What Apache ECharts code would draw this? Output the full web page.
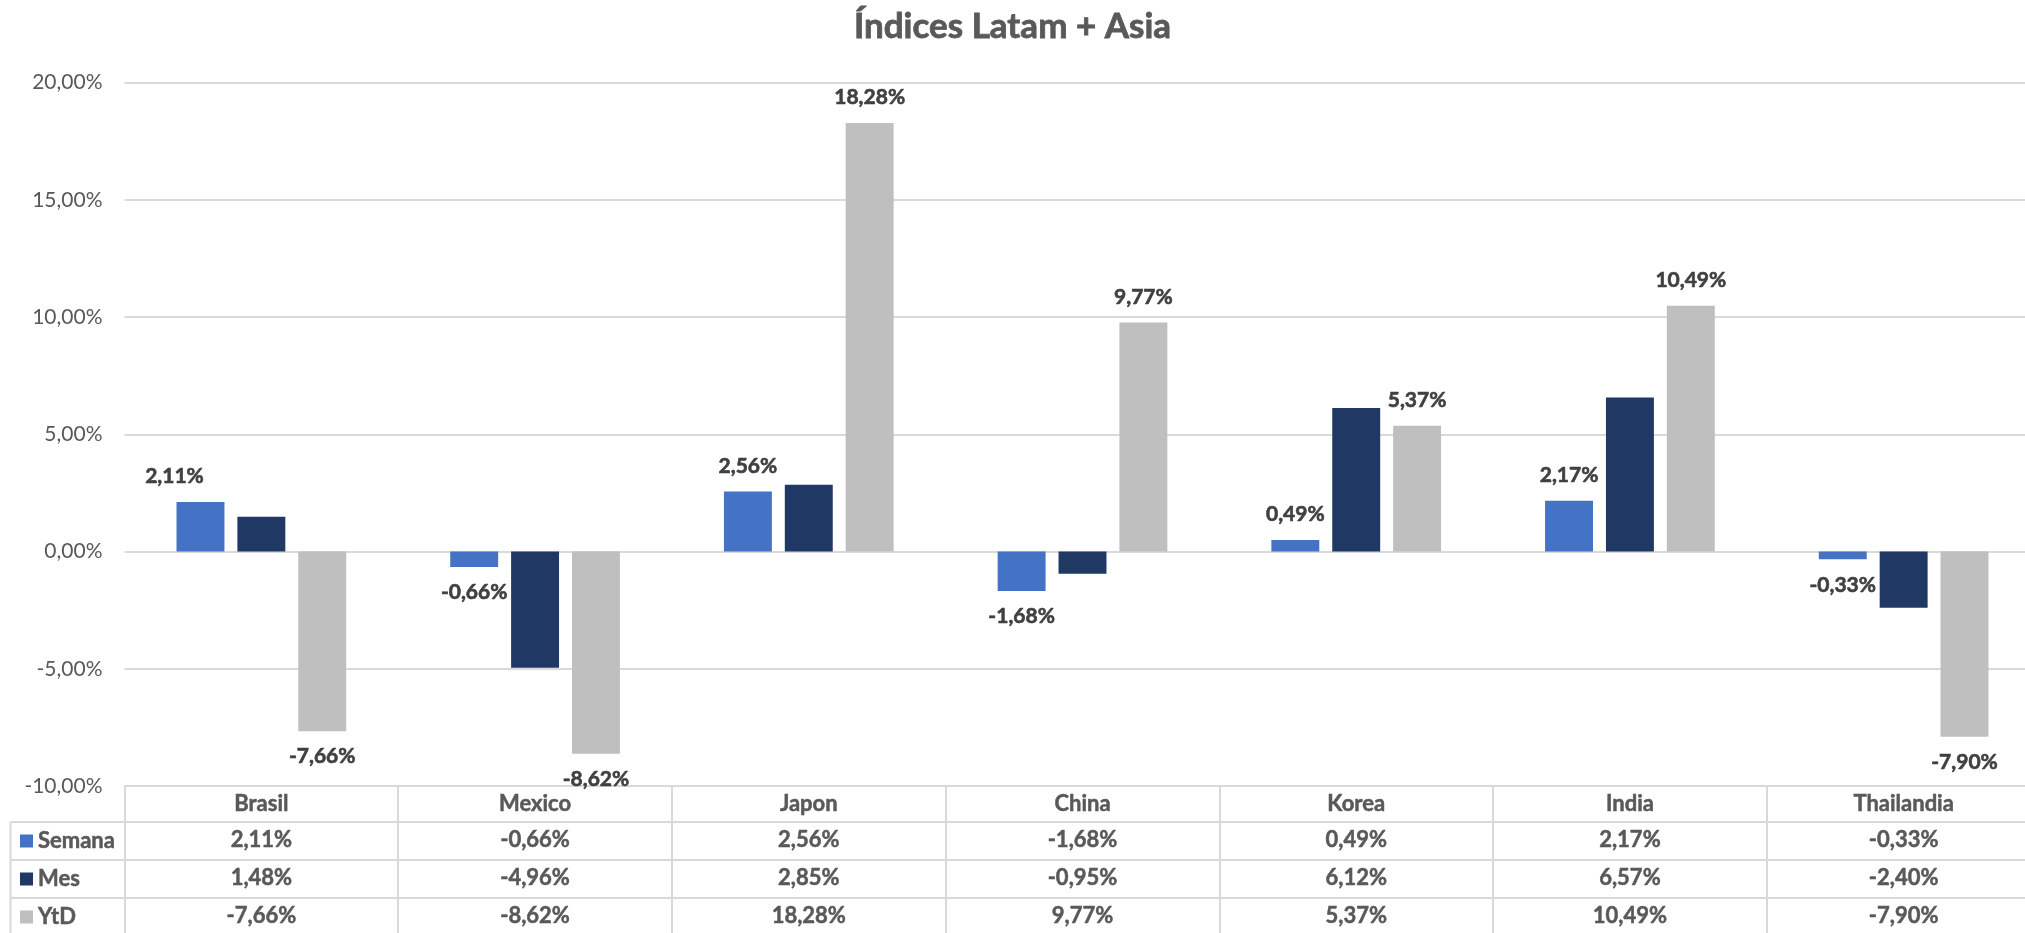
<!DOCTYPE html>
<html>
<head>
<meta charset="utf-8">
<title>Índices Latam + Asia</title>
<script src="https://cdn.jsdelivr.net/npm/echarts@6/dist/echarts.min.js"></script>
<style>
  html, body { margin: 0; padding: 0; background: #fff; }
  #chart { width: 2025px; height: 933px; }
</style>
</head>
<body>
<div id="chart"></div>
<script>
// values in percent
const categories = ['Brasil', 'Mexico', 'Japon', 'China', 'Korea', 'India', 'Thailandia'];
const semana = [2.11, -0.66, 2.56, -1.68, 0.49, 2.17, -0.33];
const mes = [1.48, -4.96, 2.85, -0.95, 6.12, 6.57, -2.40];
const ytd = [-7.66, -8.62, 18.28, 9.77, 5.37, 10.49, -7.90];
const seriesNames = ['Semana', 'Mes', 'YtD'];
const yMin = -10, yMax = 20, yStep = 5;

const FONT = 'Lato';
const GRID_LEFT = 124.5;
const GRID_WIDTH = 1916;             // runs past the right edge, like the cropped source
const GRID_BOTTOM = 147;
const ROW_OFFSETS = [36, 74, 112];   // data table rows below the category axis
const LINE = '#d9d9d9';
const colors = ['#4472c4', '#203864', '#bfbfbf'];

// heavier bold text (Calibri bold is darker than Lato bold)
const heavy = (c, w) => ({ fontWeight: 'bold', color: c, textBorderColor: c, textBorderWidth: w });

const pct = v => v.toFixed(2).replace('.', ',') + '%';

// manual label nudge seen in the source (Brasil / Semana)
const labelNudge = { 'Semana|Brasil': [-26, 0] };

function barData(name, values, showLabel) {
    return values.map((v, i) => {
        const item = { value: v };
        if (showLabel) {
            item.label = {
                show: true,
                position: v >= 0 ? 'top' : 'bottom',
                offset: labelNudge[name + '|' + categories[i]] || [0, 0]
            };
        }
        return item;
    });
}

const chart = echarts.init(document.getElementById('chart'));
const axisY = 933 - GRID_BOTTOM;
const tableRows = [semana, mes, ytd];

const tableText = Object.assign({ fontFamily: FONT, fontSize: 22 }, heavy('#595959', 0.5));

const xAxes = [{
    type: 'category',
    data: categories,
    position: 'bottom',
    axisLine: { show: true, onZero: false, lineStyle: { color: LINE, width: 2 } },
    axisTick: { show: true, alignWithLabel: false, length: 150, lineStyle: { color: LINE, width: 2 } },
    axisLabel: Object.assign({ interval: 0, margin: 7 }, tableText),
    splitLine: { show: false }
}];
tableRows.forEach((row, r) => {
    xAxes.push({
        type: 'category',
        data: categories,
        position: 'bottom',
        offset: ROW_OFFSETS[r],
        axisLine: { show: true, onZero: false, lineStyle: { color: LINE, width: 2 } },
        axisTick: { show: false },
        axisLabel: Object.assign({ interval: 0, margin: 7, formatter: (val, idx) => pct(row[idx]) }, tableText),
        splitLine: { show: false }
    });
});

const option = {
    backgroundColor: '#ffffff',
    animation: false,
    title: {
        text: 'Índices Latam + Asia',
        left: 'center',
        top: 9,
        padding: 0,
        textStyle: Object.assign({ fontFamily: FONT, fontSize: 35 }, heavy('#595959', 0.8))
    },
    legend: {
        data: seriesNames,
        orient: 'vertical',
        left: 20,
        top: 829,
        padding: 0,
        itemGap: 14,
        itemWidth: 13,
        itemHeight: 13,
        icon: 'rect',
        selectedMode: false,
        textStyle: Object.assign({ fontFamily: FONT, fontSize: 22, lineHeight: 24 }, heavy('#595959', 0.5))
    },
    grid: {
        left: GRID_LEFT, width: GRID_WIDTH, top: 82.7, bottom: GRID_BOTTOM,
        containLabel: false, outerBoundsMode: 'none'
    },
    xAxis: xAxes,
    yAxis: {
        type: 'value',
        min: yMin,
        max: yMax,
        interval: yStep,
        axisLine: { show: false },
        axisTick: { show: false },
        axisLabel: { margin: 22, fontFamily: FONT, fontSize: 21, color: '#595959', formatter: v => pct(v) },
        splitLine: { lineStyle: { color: LINE, width: 2 } }
    },
    series: [
        { name: 'Semana', type: 'bar', data: barData('Semana', semana, true) },
        { name: 'Mes', type: 'bar', data: barData('Mes', mes, false) },
        { name: 'YtD', type: 'bar', data: barData('YtD', ytd, true) }
    ].map((s, i) => Object.assign(s, {
        xAxisIndex: 0,
        barGap: '27%',
        barCategoryGap: '38%',
        itemStyle: { color: colors[i] },
        label: Object.assign({
            distance: 15,
            fontFamily: FONT, fontSize: 21,
            formatter: p => pct(p.value)
        }, heavy('#404040', 0.6))
    })),
    graphic: [
        // legend column of the data table
        { type: 'line', shape: { x1: 10.5, y1: axisY + ROW_OFFSETS[0], x2: 10.5, y2: 940 }, style: { stroke: LINE, lineWidth: 2 } }
    ].concat(ROW_OFFSETS.map(o => ({
        type: 'line',
        shape: { x1: 10.5, y1: axisY + o, x2: GRID_LEFT, y2: axisY + o },
        style: { stroke: LINE, lineWidth: 2 }
    })))
};

chart.setOption(option);
</script>
</body>
</html>
